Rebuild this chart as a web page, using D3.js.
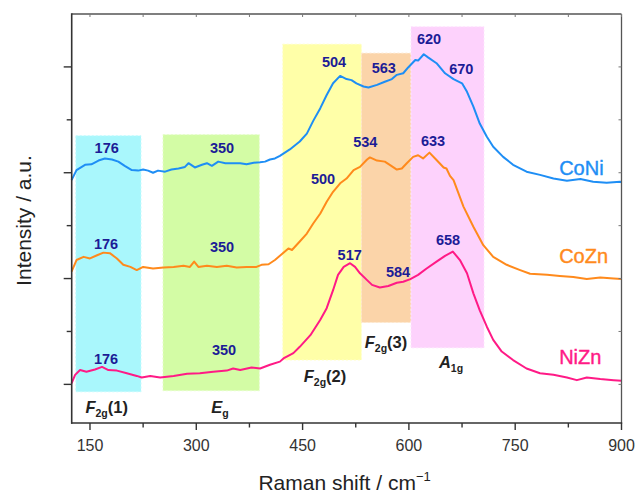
<!DOCTYPE html>
<html><head><meta charset="utf-8">
<script src="https://cdn.jsdelivr.net/npm/d3@7"></script>
<style>body{margin:0;background:#fff;}svg{display:block;font-family:"Liberation Sans",Arial,sans-serif;}</style>
</head><body><svg id="c" width="638" height="495"></svg>
<script>
// ---- data ----
const seriesNames = ["CoNi", "CoZn", "NiZn"];
const coNiShift = [124,131,143,152,162,171,181,190,199,209,218,225,232,239,246,256,265,275,284,289,298,308,315,322,331,341,352,362,371,381,390,397,404,411,418,432,446,456,465,475,484,493,503,512,519,526,536,543,555,566,576,583,592,599,609,613,621,627,639,649,651,663,675,682,691,700,710,719,733,747,766,785,804,823,842,860,879,898,900];
const coNiInt   = [386,405,415,416,423,427,425,421,413,405,404,406,404,400,404,402,406,408,411,418,410,415,418,413,421,418,418,418,416,419,420,421,425,427,432,444,459,474,498,522,547,569,583,577,575,569,563,561,566,572,577,585,588,599,613,612,624,618,607,591,588,577,569,553,525,493,468,449,430,415,402,396,389,385,388,383,381,383,382];
const coZnShift = [124,131,141,150,160,169,178,188,197,207,216,225,239,254,268,282,291,297,303,315,329,343,357,371,385,392,402,411,418,430,435,446,456,465,475,484,493,503,512,522,531,541,545,555,566,573,583,590,597,606,613,620,629,639,649,653,658,663,677,691,705,719,738,757,771,795,813,832,851,870,889,900];
const coZnInt   = [213,235,241,238,244,249,248,238,226,222,216,222,219,221,222,224,222,232,222,224,222,224,221,222,222,226,227,235,243,257,254,270,285,304,323,345,364,380,389,405,411,425,429,423,421,415,406,408,418,430,433,427,438,424,410,408,394,386,336,298,263,241,226,216,209,207,205,203,199,202,200,199];
const niZnShift = [124,129,136,145,157,167,176,188,202,216,223,235,249,268,287,305,324,343,352,362,378,390,404,418,423,437,446,461,475,484,493,500,508,517,524,531,541,548,559,571,583,592,602,613,625,639,651,662,672,682,691,700,710,719,731,747,766,785,804,823,837,851,870,889,900];
const niZnInt   = [2,18,27,24,28,33,27,26,21,16,13,16,13,16,20,21,24,26,30,27,32,30,37,43,49,59,71,93,122,144,178,207,222,229,222,210,197,188,183,186,192,194,199,207,219,232,243,251,235,210,172,140,109,84,62,46,30,21,18,13,8,13,10,8,7];
const xTickValues = [150, 300, 450, 600, 750, 900];
const xMinorTicks = [225, 375, 525, 675, 825];
const yMajorTicks = [0, 200, 400, 600];
const yMinorTicks = [100, 300, 500];
const bandNames = ["F2g(1)", "Eg", "F2g(2)", "F2g(3)", "A1g"];
const bandRanges = [[130,222],[253,389],[422,533],[533,603],[603,706]];
const bandTops = [470, 472, 643, 626, 676];
const bandBottoms = [-14, -12, 46, 117, 69];
const peakTexts = ["176","350","504","563","620","670","176","350","500","534","633","176","350","517","584","658"];
const peakShift = [173.6,336.3,494.3,564.5,628.4,674.0,172.6,336.3,478.8,538.5,634.0,172.6,339.1,516.5,584.6,655.2];
const peakInt   = [447,447,609,598,653,597,266,260,389,458,460,49,65,244,213,273];

// ---- layout ----
const W = 638, H = 495;
const m = {l: 71.7, r: 638 - 621.5, t: 14, b: 495 - 423};
const svg = d3.select("#c");
const x = d3.scaleLinear().domain([124.2, 900]).range([m.l, W - m.r]);
const y = d3.scaleLinear().domain([-73, 700]).range([H - m.b, m.t]);

const bandFill = ["#a9f7fc", "#d3fca5", "#ffffa8", "#fbd4a9", "#fdd2fc"];
const bandStroke = ["#c8fbfd", "#e6fdcc", "#ffffcc", "#fde6cc", "#fee6fe"];
const lineColors = ["#1e8ef5", "#ff8a1c", "#ff1a86"];
const labelColor = "#1c1c96";

// bands
bandRanges.forEach((r, i) => {
  svg.append("rect")
    .attr("x", x(r[0])).attr("width", x(r[1]) - x(r[0]))
    .attr("y", y(bandTops[i])).attr("height", y(bandBottoms[i]) - y(bandTops[i]))
    .attr("fill", bandFill[i]).attr("stroke", bandStroke[i]).attr("stroke-dasharray", "2,2").attr("stroke-width", 1);
});

// curves
const line = d3.line().x(d => x(d[0])).y(d => y(d[1])).curve(d3.curveLinear);
const series = [
  d3.zip(coNiShift, coNiInt),
  d3.zip(coZnShift, coZnInt),
  d3.zip(niZnShift, niZnInt)
];
series.forEach((s, i) => {
  svg.append("path").datum(s).attr("d", line).attr("fill", "none")
    .attr("stroke", lineColors[i]).attr("stroke-width", 2).attr("stroke-linejoin", "round");
});

// series labels
const seriesLabelInt = [409, 242, 52];
seriesNames.forEach((n, i) => {
  svg.append("text").attr("x", x(812)).attr("y", y(seriesLabelInt[i]))
    .attr("dy", "0.35em").attr("font-size", 20).attr("fill", lineColors[i])
    .attr("stroke", lineColors[i]).attr("stroke-width", 0.4).text(n);
});

// peak labels
peakTexts.forEach((t, i) => {
  svg.append("text").attr("x", x(peakShift[i])).attr("y", y(peakInt[i])).attr("dy", "0.36em")
    .attr("text-anchor", "middle").attr("font-size", 14.5).attr("font-weight", "bold")
    .attr("fill", labelColor).text(t);
});

// band labels
const bandLabelPos = [[173.6,-54],[333.5,-54],[481.6,5],[567.7,68.6],[659.4,30.8]];
const bandParts = [["F","2g","(1)"],["E","g",""],["F","2g","(2)"],["F","2g","(3)"],["A","1g",""]];
bandParts.forEach((p, i) => {
  const t = svg.append("text").attr("x", x(bandLabelPos[i][0])).attr("y", y(bandLabelPos[i][1]))
    .attr("text-anchor", "middle").attr("font-size", 16.5).attr("font-weight", "bold").attr("fill", "#222");
  t.append("tspan").attr("font-style", "italic").text(p[0]);
  t.append("tspan").attr("font-size", 10.5).attr("dy", 4).text(p[1]);
  if (p[2]) t.append("tspan").attr("dy", -4).text(p[2]);
});

// frame
const fx0 = m.l, fx1 = W - m.r, fy0 = m.t, fy1 = H - m.b;
svg.append("line").attr("x1", fx0).attr("x2", fx1).attr("y1", fy0).attr("y2", fy0).attr("stroke", "#555").attr("stroke-width", 1.3);
svg.append("line").attr("x1", fx1).attr("x2", fx1).attr("y1", fy0).attr("y2", fy1).attr("stroke", "#555").attr("stroke-width", 1.3);

// top/right inner ticks
xTickValues.concat(xMinorTicks).forEach(v => {
  svg.append("line").attr("x1", x(v)).attr("x2", x(v)).attr("y1", fy0).attr("y2", fy0 + 3).attr("stroke", "#777").attr("stroke-width", 1);
});
yMajorTicks.concat(yMinorTicks).forEach(v => {
  svg.append("line").attr("x1", fx1).attr("x2", fx1 - 3).attr("y1", y(v)).attr("y2", y(v)).attr("stroke", "#777").attr("stroke-width", 1);
});

// bottom axis
const xAxis = svg.append("g").attr("transform", `translate(0,${fy1})`);
xAxis.append("line").attr("x1", fx0 - 0.7).attr("x2", fx1 + 0.7).attr("stroke", "#333").attr("stroke-width", 1.6);
xTickValues.forEach(v => {
  xAxis.append("line").attr("x1", x(v)).attr("x2", x(v)).attr("y1", 0).attr("y2", 7).attr("stroke", "#333").attr("stroke-width", 1.4);
  xAxis.append("text").attr("x", x(v)).attr("y", 28).attr("text-anchor", "middle").attr("font-size", 16).attr("fill", "#333").text(v);
});
xMinorTicks.forEach(v => {
  xAxis.append("line").attr("x1", x(v)).attr("x2", x(v)).attr("y1", 0).attr("y2", 4.5).attr("stroke", "#333").attr("stroke-width", 1.4);
});

// left axis
const yAxis = svg.append("g").attr("transform", `translate(${fx0},0)`);
yAxis.append("line").attr("y1", fy0 - 0.7).attr("y2", fy1 + 0.7).attr("stroke", "#333").attr("stroke-width", 1.6);
yMajorTicks.forEach(v => {
  yAxis.append("line").attr("x1", 0).attr("x2", -8).attr("y1", y(v)).attr("y2", y(v)).attr("stroke", "#333").attr("stroke-width", 1.4);
});
yMinorTicks.forEach(v => {
  yAxis.append("line").attr("x1", 0).attr("x2", -5).attr("y1", y(v)).attr("y2", y(v)).attr("stroke", "#333").attr("stroke-width", 1.4);
});

// axis titles
const xt = svg.append("text").attr("x", (fx0 + fx1) / 2 - 2).attr("y", 490).attr("text-anchor", "middle")
  .attr("font-size", 21).attr("fill", "#222");
xt.append("tspan").text("Raman shift / cm");
xt.append("tspan").attr("font-size", 13).attr("dy", -9).text("\u22121");
svg.append("text").attr("transform", `translate(31,${(fy0 + fy1) / 2 + 2}) rotate(-90)`)
  .attr("text-anchor", "middle").attr("font-size", 21).attr("fill", "#222").text("Intensity / a.u.");
</script></body></html>
